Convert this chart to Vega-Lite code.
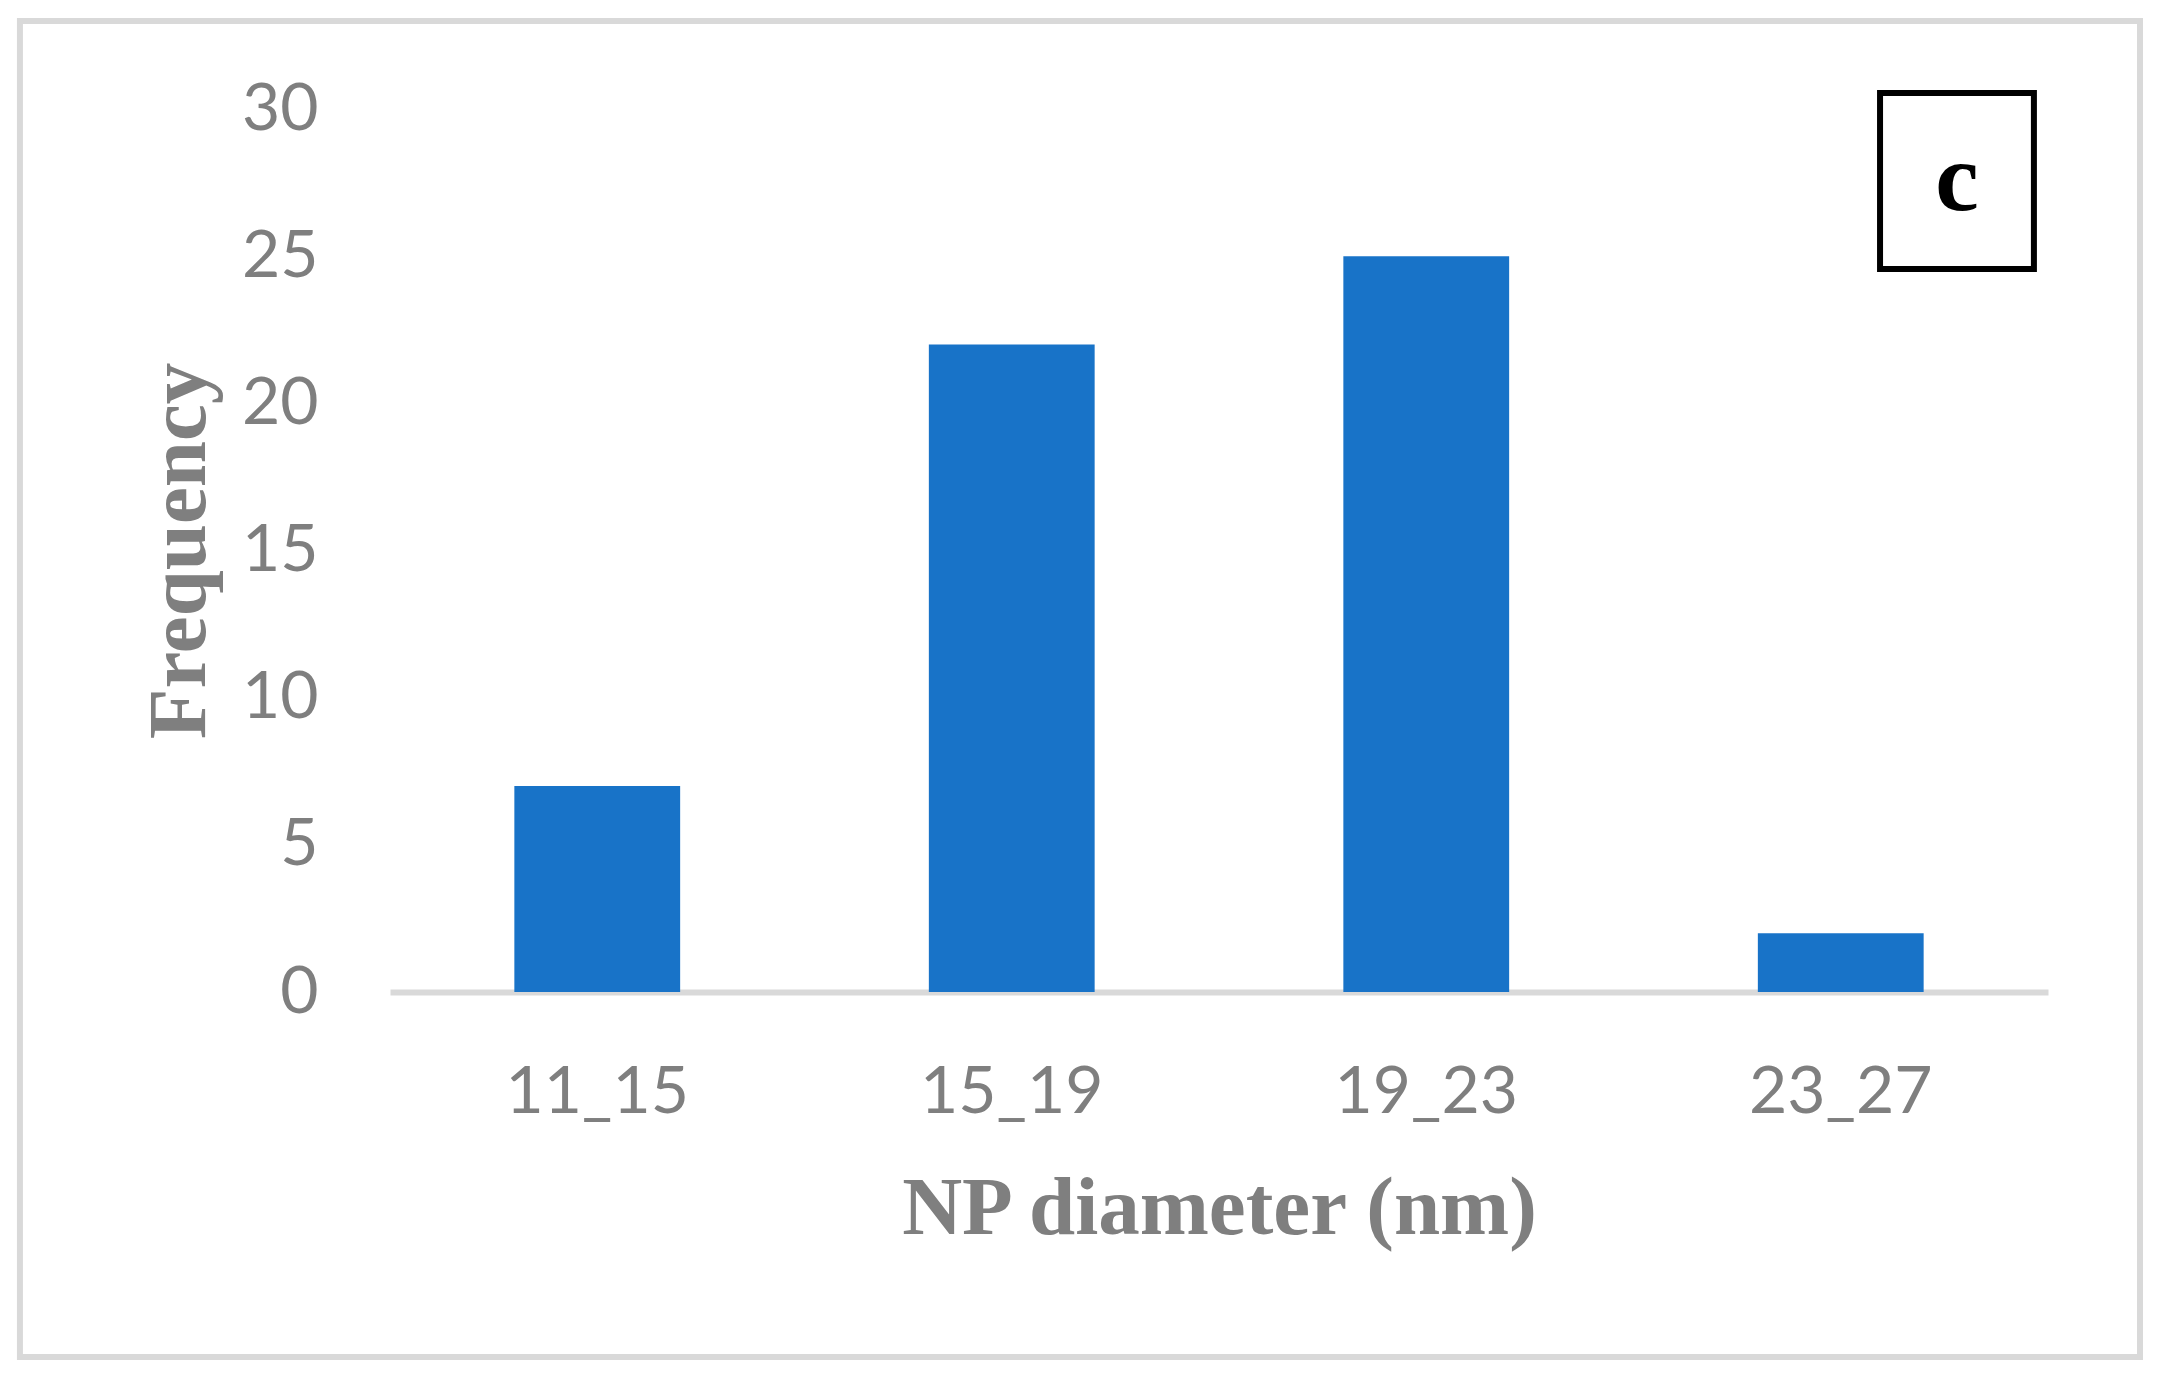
{
  "$schema": "https://vega.github.io/schema/vega-lite/v6.json",
  "width": 1658,
  "height": 883,
  "autosize": {"type": "none"},
  "padding": {"left": 390, "top": 109, "right": 110, "bottom": 383},
  "background": "white",
  "config": {
    "view": {"stroke": null},
    "axisY": {
      "grid": false, "domain": false, "ticks": false,
      "labelFont": "Lato", "labelFontSize": 66, "labelColor": "#7f7f7f", "labelPadding": 72,
      "titleFont": "Liberation Serif", "titleFontWeight": "bold", "titleFontSize": 83, "titleColor": "#7f7f7f", "titlePadding": 20
    },
    "axisX": {
      "grid": false, "ticks": false, "domainColor": "#d9d9d9", "domainWidth": 6, "labelAngle": 0, "labelLimit": 1000,
      "labelFont": "Lato", "labelFontSize": 66, "labelColor": "#7f7f7f", "labelPadding": 68,
      "titleFont": "Liberation Serif", "titleFontWeight": "bold", "titleFontSize": 83, "titleColor": "#7f7f7f", "titlePadding": 42
    }
  },
  "layer": [
    {
      "data": {"values": [
        {"range": "11_15", "freq": 7},
        {"range": "15_19", "freq": 22},
        {"range": "19_23", "freq": 25},
        {"range": "23_27", "freq": 2}
      ]},
      "mark": {"type": "bar", "color": "#1873c8"},
      "encoding": {
        "x": {"field": "range", "type": "nominal", "sort": null,
              "scale": {"paddingInner": 0.6, "paddingOuter": 0.3},
              "axis": {"title": "NP diameter (nm)", "labelLimit": 1000}},
        "y": {"field": "freq", "type": "quantitative", "scale": {"domain": [0, 30]},
              "axis": {"title": "Frequency", "values": [0, 5, 10, 15, 20, 25, 30]}}
      }
    },
    {
      "data": {"values": [
        {"px": -0.2232, "px2": 1.0555, "freq": 32.99, "freq2": -12.40}
      ]},
      "mark": {"type": "rect", "clip": false, "fill": null, "stroke": "#d9d9d9", "strokeWidth": 6},
      "encoding": {
        "x": {"field": "px", "type": "quantitative", "scale": {"domain": [0, 1]}, "axis": null},
        "x2": {"field": "px2"},
        "y": {"field": "freq", "type": "quantitative", "scale": {"domain": [0, 30]},
              "axis": {"title": "Frequency", "values": [0, 5, 10, 15, 20, 25, 30]}},
        "y2": {"field": "freq2"}
      }
    },
    {
      "data": {"values": [
        {"px": 0.8987, "px2": 0.9915, "freq": 30.54, "freq2": 24.56}
      ]},
      "mark": {"type": "rect", "clip": false, "fill": "white", "stroke": "black", "strokeWidth": 6},
      "encoding": {
        "x": {"field": "px", "type": "quantitative", "scale": {"domain": [0, 1]}, "axis": null},
        "x2": {"field": "px2"},
        "y": {"field": "freq", "type": "quantitative", "scale": {"domain": [0, 30]},
              "axis": {"title": "Frequency", "values": [0, 5, 10, 15, 20, 25, 30]}},
        "y2": {"field": "freq2"}
      }
    },
    {
      "data": {"values": [
        {"px": 0.9451, "freq": 26.57, "label": "c"}
      ]},
      "mark": {"type": "text", "clip": false, "font": "Liberation Serif", "fontSize": 98, "fontWeight": 600, "color": "black", "align": "center", "baseline": "alphabetic"},
      "encoding": {
        "x": {"field": "px", "type": "quantitative", "scale": {"domain": [0, 1]}, "axis": null},
        "y": {"field": "freq", "type": "quantitative", "scale": {"domain": [0, 30]},
              "axis": {"title": "Frequency", "values": [0, 5, 10, 15, 20, 25, 30]}},
        "text": {"field": "label"}
      }
    }
  ],
  "resolve": {"scale": {"x": "independent"}}
}
